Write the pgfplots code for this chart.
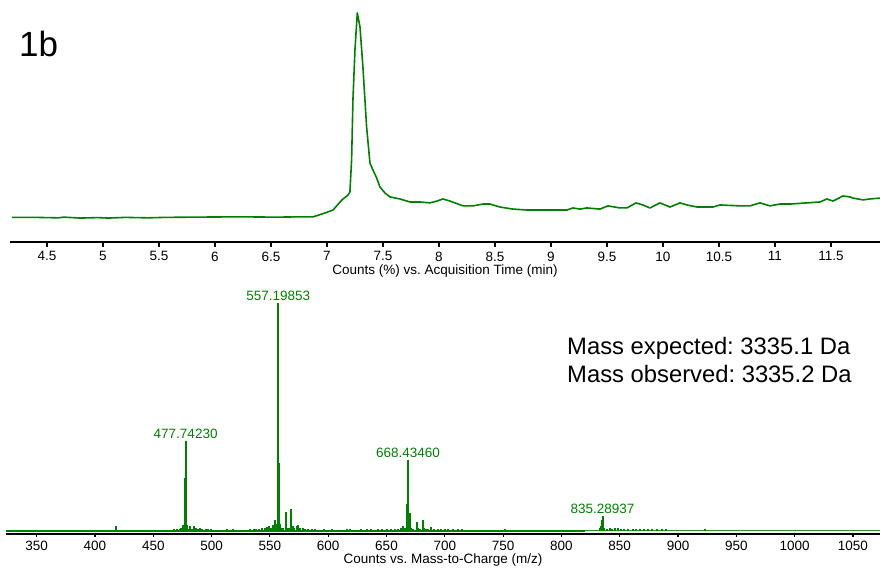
\documentclass[border=0pt]{standalone}
\usepackage{fontspec}
\setmainfont{Liberation Sans}
\usepackage{pgfplots}
\usepackage{pgfplotstable}
\pgfplotsset{compat=1.18}
\definecolor{msgreen}{RGB}{0,128,0}
\newcommand\ticksize{\fontsize{13.5}{16}\selectfont}
\frenchspacing

\pgfplotstableread{
t v
4.188 10.7
4.40 10.7
4.60 10.5
4.65 10.8
4.80 10.4
4.95 10.6
5.05 10.4
5.20 10.7
5.40 10.5
5.55 10.7
5.80 10.8
6.10 10.9
6.31 10.9
6.55 10.8
6.70 10.9
6.875 10.9
6.982 12.6
7.054 13.9
7.134 18.3
7.188 20.4
7.205 21.7
7.220 35.7
7.232 61.7
7.250 83.5
7.271 99.6
7.295 93.5
7.321 76.1
7.354 50.0
7.384 34.3
7.411 31.3
7.444 27.8
7.473 23.9
7.518 21.3
7.563 19.6
7.652 18.7
7.741 17.4
7.830 17.4
7.920 17.0
7.982 17.8
8.036 18.7
8.098 17.8
8.214 15.7
8.304 15.7
8.393 16.5
8.455 16.5
8.545 15.2
8.661 14.3
8.786 13.9
8.991 13.9
9.143 13.9
9.196 14.8
9.259 14.3
9.321 14.8
9.438 14.3
9.509 15.7
9.616 14.8
9.679 14.8
9.759 17.0
9.821 16.1
9.884 14.8
9.973 17.0
10.063 15.2
10.152 17.0
10.214 16.1
10.304 15.2
10.393 15.2
10.446 15.2
10.509 16.1
10.688 15.7
10.777 15.7
10.866 17.0
10.955 15.7
11.045 16.5
11.134 16.5
11.286 17.0
11.402 17.4
11.464 18.7
11.518 17.8
11.607 20.0
11.670 19.6
11.696 19.1
11.786 18.3
11.848 18.7
11.938 19.1
}\tic

\pgfplotstableread{
mz v
418.4 2.2
467.5 0.8
470.5 1.0
472.5 1.0
474.0 1.3
475.2 2.6
476.0 1.2
476.9 23.2
477.74 39.5
478.24 8.0
478.74 2.5
480.0 1.0
481.5 2.2
483.0 1.0
485.0 2.0
486.5 1.2
488.0 1.0
490.0 1.4
492.0 0.8
495.0 0.8
497.0 0.8
499.5 0.8
513.0 0.8
518.0 0.8
533.0 0.8
536.0 0.8
538.5 0.8
541.0 1.0
543.5 1.2
545.5 1.4
547.5 1.8
549.5 2.2
551.0 1.5
552.7 2.6
554.4 4.8
555.5 1.8
556.2 3.0
556.6 96.9
557.2 100
557.55 30
558.0 14.5
558.6 3.0
559.5 1.5
561.0 1.2
563.6 8.5
564.0 6.5
565.2 1.5
567.0 1.2
567.9 9.6
568.3 8.0
569.5 2.0
571.0 1.2
573.0 2.0
574.4 2.6
576.0 1.5
578.0 1.2
580.0 1.0
583.0 1.0
586.0 0.8
589.0 0.8
596.0 0.8
603.0 0.8
616.0 0.7
619.0 0.7
628.0 0.7
633.0 0.7
637.0 0.7
643.0 0.7
646.0 0.8
650.0 0.8
654.0 0.8
657.0 1.0
660.0 1.0
662.5 1.5
664.4 2.2
666.0 1.2
668.0 12.0
668.43 31.1
668.8 10.0
669.9 7.9
671.0 1.5
673.0 1.0
675.9 4.1
677.0 1.5
679.0 1.0
681.0 4.8
682.0 1.5
684.0 1.0
686.0 1.0
688.2 1.8
691.0 1.0
694.0 0.8
697.0 0.8
700.0 0.8
703.0 0.8
707.0 0.8
711.0 0.7
715.0 0.7
752.0 0.7
830.0 0.6
833.0 1.2
834.3 2.0
834.96 5.0
835.29 6.6
835.6 4.0
836.5 1.5
839.0 0.8
841.5 1.5
843.5 1.0
846.0 1.5
848.8 1.3
851.0 1.0
854.0 0.8
857.0 0.8
861.0 0.8
864.0 0.8
867.0 0.8
871.0 0.8
874.0 0.8
878.0 0.8
882.0 0.8
886.0 0.8
890.0 0.8
922.9 0.8
}\ms

\begin{document}
\begin{tikzpicture}[x=1pt,y=1pt]
\useasboundingbox (0,0) rectangle (880,569);

% ---------- top: chromatogram ----------
\begin{axis}[
  at={(10pt,327pt)}, anchor=south west,
  scale only axis, width=870pt, height=242pt,
  xmin=4.170, xmax=11.938, ymin=0, ymax=105.2,
  axis x line*=bottom, axis y line=none,
  x axis line style={line width=1.8pt, black},
  xtick={4.5,5,5.5,6,6.5,7,7.5,8,8.5,9,9.5,10,10.5,11,11.5},
  tick align=outside, major tick length=5pt,
  tick style={black, line width=1.2pt},
  xticklabel style={font=\ticksize, inner sep=0pt, yshift=-4.5pt},
  /pgf/number format/assume math mode=true,
  /pgf/number format/1000 sep={},
  xlabel={Counts (\%) vs. Acquisition Time (min)},
  xlabel style={font=\ticksize, at={(axis description cs:0.5,0)}, anchor=north, inner sep=0pt, yshift=-22.5pt},
  clip=false,
]
\addplot[msgreen, line width=1.6pt, line join=round] table[x=t, y=v] {\tic};
\end{axis}

% ---------- bottom: mass spectrum ----------
\begin{axis}[
  at={(6pt,35pt)}, anchor=south west,
  scale only axis, width=874pt, height=244pt,
  xmin=323.7, xmax=1073.2, ymin=-1.3, ymax=105.7,
  axis x line*=bottom, axis y line=none,
  x axis line style={line width=1.8pt, black},
  xtick={350,400,...,1050},
  tick align=outside, major tick length=3pt,
  tick style={black, line width=1.2pt},
  xticklabel style={font=\ticksize, inner sep=0pt, yshift=-4pt},
  /pgf/number format/assume math mode=true,
  /pgf/number format/1000 sep={},
  xlabel={Counts vs. Mass-to-Charge (m/z)},
  xlabel style={font=\ticksize, at={(axis description cs:0.5,0)}, anchor=north, inner sep=0pt, yshift=-20pt},
  clip=false,
]
\addplot[msgreen, line width=2pt] coordinates {(323.7,0) (820,0)};
\addplot[msgreen!85, line width=1.6pt] coordinates {(820,0.3) (1073.2,0.3)};
\addplot[msgreen, ycomb, line width=2pt] table[x=mz, y=v] {\ms};
\node[anchor=south, inner sep=0pt, yshift=2pt, text=msgreen, font=\ticksize] at (axis cs:557.2,100) {557.19853};
\node[anchor=south, inner sep=0pt, yshift=2.5pt, text=msgreen, font=\ticksize] at (axis cs:477.74,39.5) {477.74230};
\node[anchor=south, inner sep=0pt, yshift=2.5pt, text=msgreen, font=\ticksize] at (axis cs:668.43,31.1) {668.43460};
\node[anchor=south, inner sep=0pt, yshift=2.5pt, text=msgreen, font=\ticksize] at (axis cs:835.29,6.6) {835.28937};
\end{axis}

\node[anchor=base west, inner sep=0pt, font=\fontsize{35}{40}\selectfont] at (19,512) {1b};
\node[anchor=base west, inner sep=0pt, font=\fontsize{23.8}{28}\selectfont] at (567,214) {Mass expected: 3335.1 Da};
\node[anchor=base west, inner sep=0pt, font=\fontsize{23.8}{28}\selectfont] at (567,186) {Mass observed: 3335.2 Da};
\end{tikzpicture}
\end{document}
